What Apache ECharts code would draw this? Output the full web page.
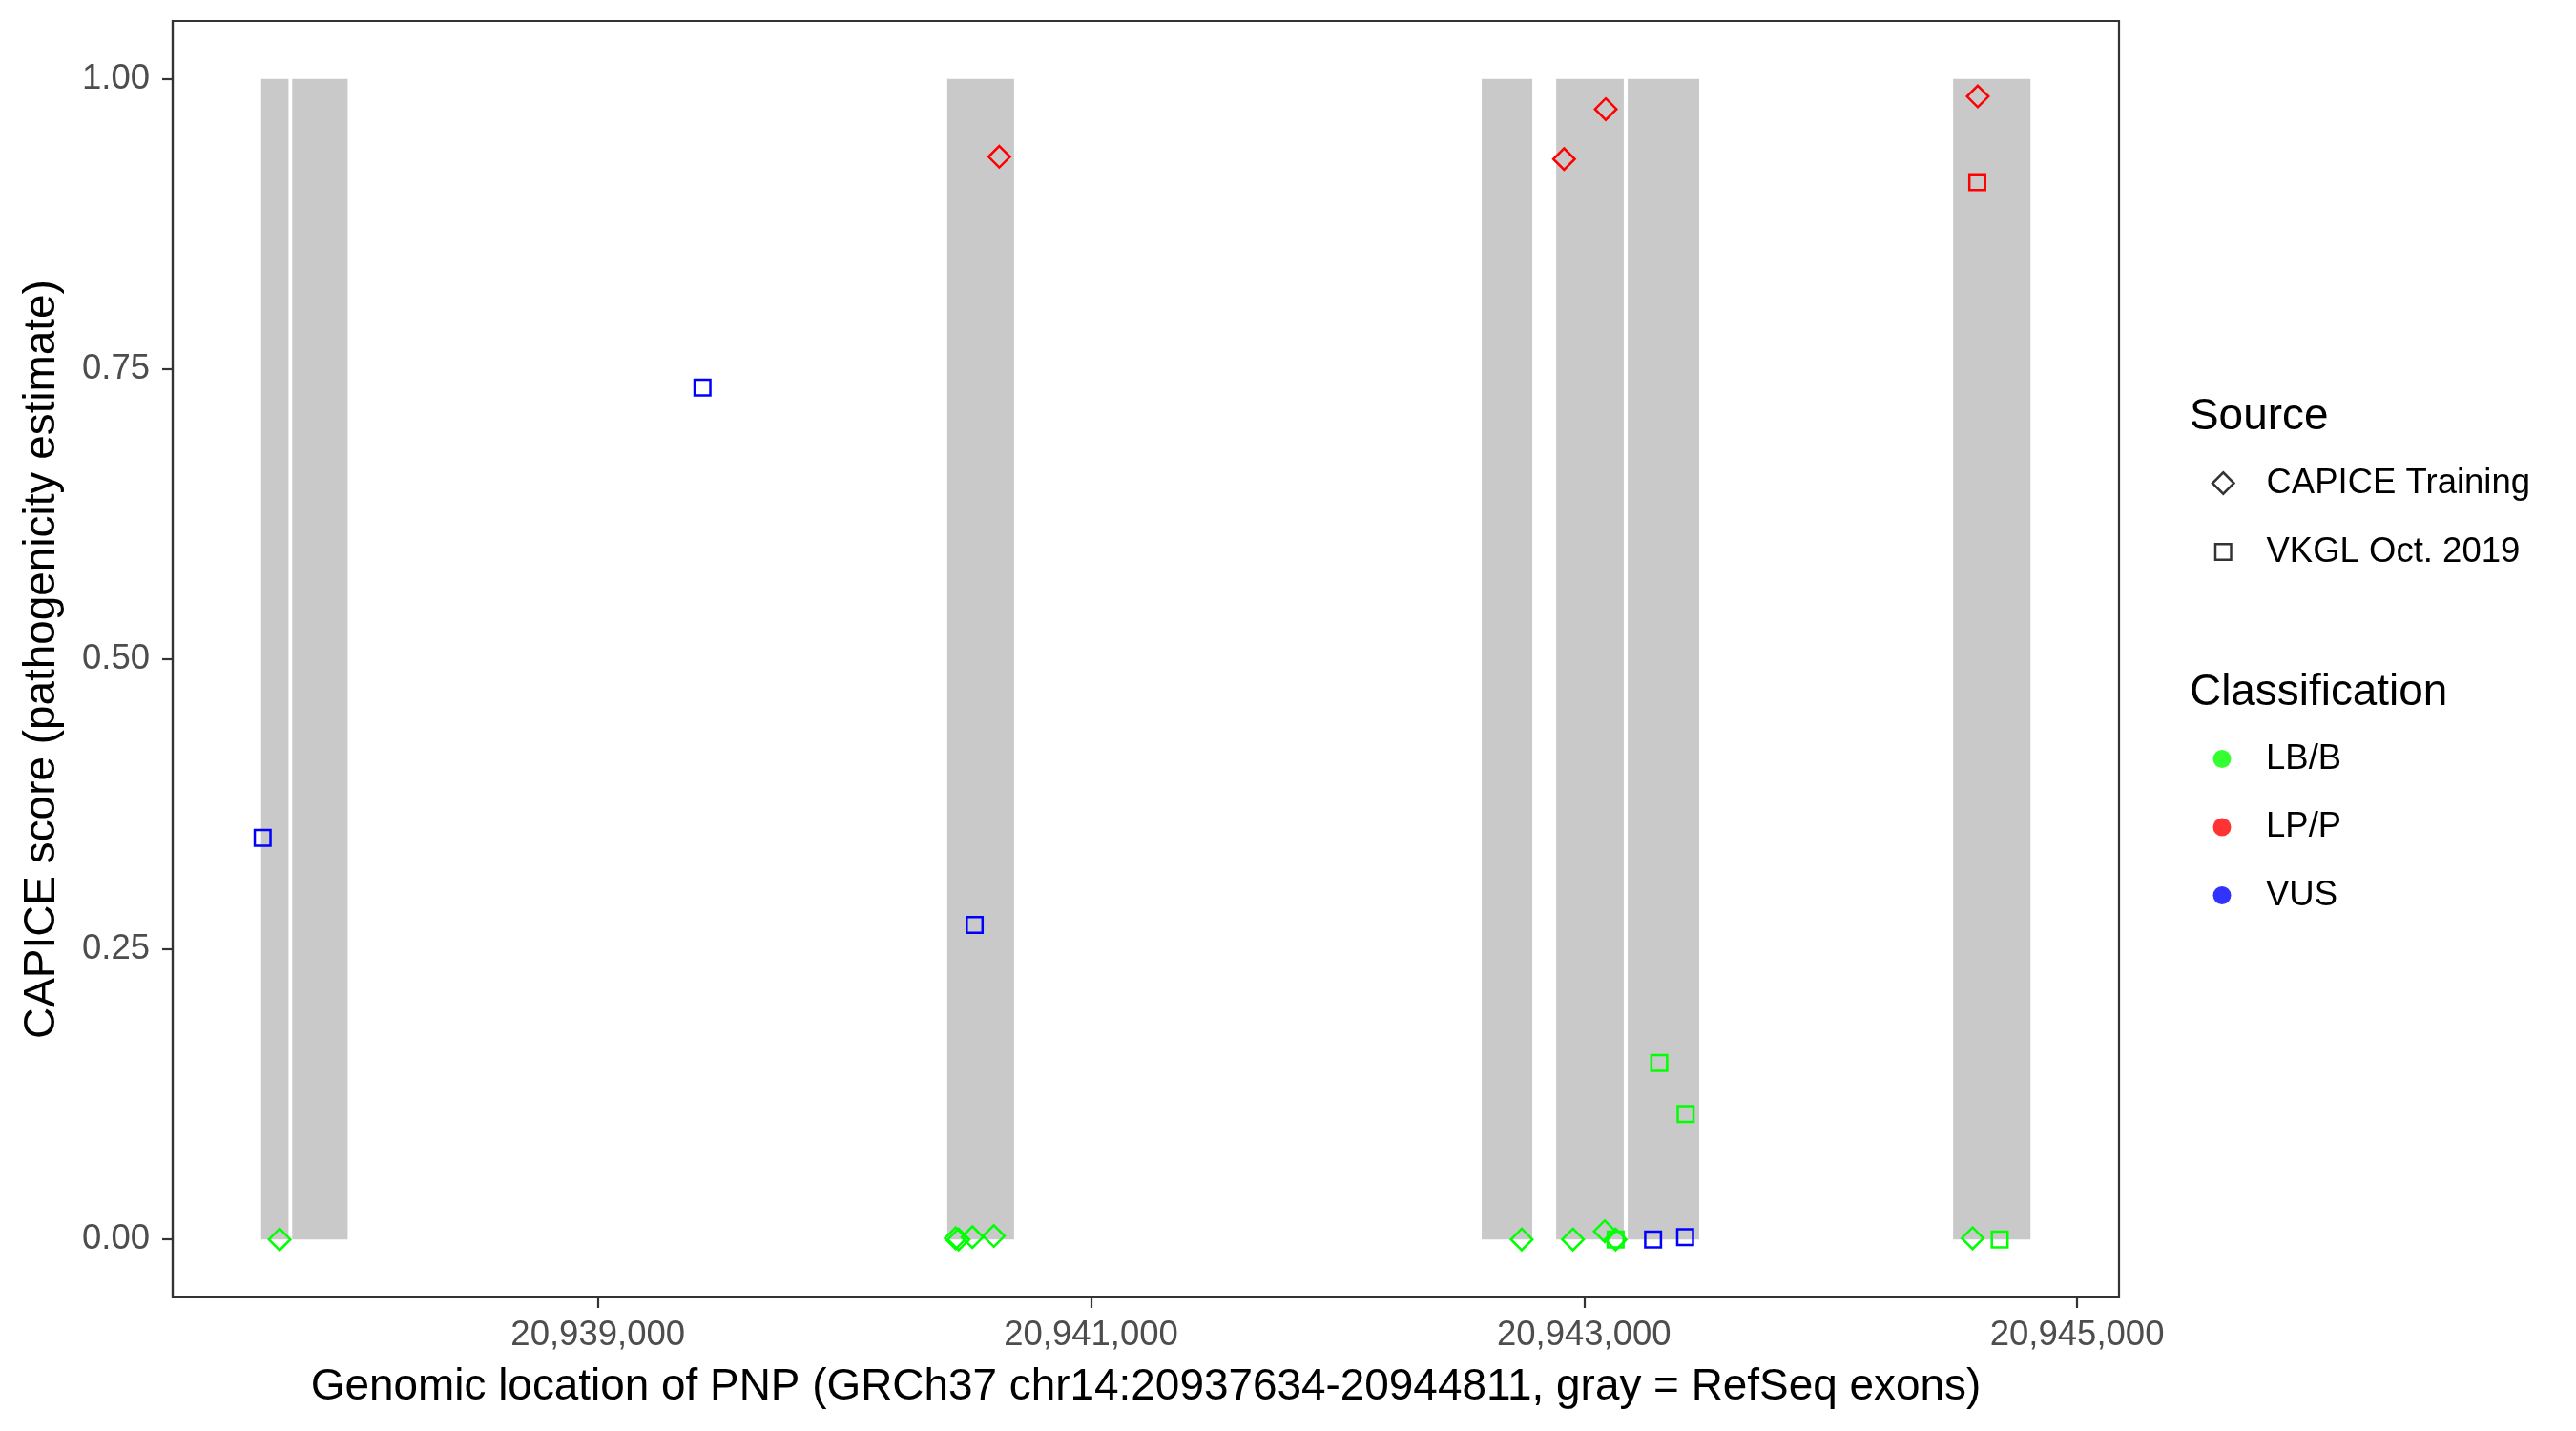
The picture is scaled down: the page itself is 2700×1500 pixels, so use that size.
<!DOCTYPE html>
<html>
<head>
<meta charset="utf-8">
<script src="https://cdn.jsdelivr.net/npm/echarts@6/dist/echarts.min.js"></script>
<style>
html,body{margin:0;padding:0;background:#fff;}
#chart{width:2700px;height:1500px;}
</style>
</head>
<body>
<div id="chart"></div>
<script>
// ---- data ----
const sourceNames = ['CAPICE Training', 'VKGL Oct. 2019'];
const classNames = ['LB/B', 'LP/P', 'VUS'];
const classColors = ['#00FF00', '#FF0000', '#0000FF'];

// RefSeq exons (gray)
const exonStarts = [20937634, 20937760, 20940417, 20942585, 20942887, 20943177, 20944497];
const exonEnds   = [20937745, 20937985, 20940688, 20942790, 20943161, 20943467, 20944811];

// CAPICE Training variants
const capicePos   = [20937709, 20940451, 20940463, 20940519, 20940606, 20940628, 20942747, 20942919, 20942955, 20943084, 20943088, 20943128, 20944576, 20944597];
const capiceScore = [0.000, 0.001, 0.000, 0.002, 0.003, 0.933, 0.000, 0.931, 0.000, 0.007, 0.974, 0.000, 0.001, 0.985];
const capiceClass = ['LB/B','LB/B','LB/B','LB/B','LB/B','LP/P','LB/B','LP/P','LB/B','LB/B','LP/P','LB/B','LB/B','LP/P'];

// VKGL Oct. 2019 variants
const vkglPos   = [20937640, 20939424, 20940528, 20943128, 20943280, 20943305, 20943410, 20943412, 20944595, 20944686];
const vkglScore = [0.346, 0.734, 0.271, 0.000, 0.000, 0.152, 0.002, 0.108, 0.911, 0.000];
const vkglClass = ['VUS','VUS','VUS','LB/B','VUS','LB/B','VUS','LB/B','LP/P','LB/B'];

const xTicks = [20939000, 20941000, 20943000, 20945000];
const yTicks = [0, 0.25, 0.5, 0.75, 1];
const xMin = 20937275.15, xMax = 20945169.85;
const yMin = -0.05, yMax = 1.05;

const xTitle = 'Genomic location of PNP (GRCh37 chr14:20937634-20944811, gray = RefSeq exons)';
const yTitle = 'CAPICE score (pathogenicity estimate)';

// ---- build ----
const FONT = '"Liberation Sans", Arial, Helvetica, sans-serif';
const TITLE_SIZE = 45.9, TEXT_SIZE = 36.5;
const DIAMOND = 22.5, SQUARE = 16.5, LW = 2.5;

function pick(pos, score, cls, c) {
  const out = [];
  for (let i = 0; i < pos.length; i++) if (cls[i] === c) out.push([pos[i], score[i]]);
  return out;
}

const series = [];
series.push({
  type: 'custom',
  name: 'exons',
  silent: true,
  z: 1,
  data: exonStarts.map((s, i) => [s, exonEnds[i], 0, 1]),
  encode: { x: [0, 1], y: [2, 3] },
  renderItem: function (params, api) {
    const p0 = api.coord([api.value(0), api.value(3)]);
    const p1 = api.coord([api.value(1), api.value(2)]);
    return { type: 'rect', shape: { x: p0[0], y: p0[1], width: p1[0] - p0[0], height: p1[1] - p0[1] }, style: { fill: '#C9C9C9' } };
  }
});

classNames.forEach((c, ci) => {
  series.push({
    type: 'scatter', name: sourceNames[0] + ' - ' + c, z: 3,
    symbol: 'diamond', symbolSize: DIAMOND,
    itemStyle: { color: 'rgba(0,0,0,0)', borderColor: classColors[ci], borderWidth: LW, opacity: 1 },
    data: pick(capicePos, capiceScore, capiceClass, c)
  });
  series.push({
    type: 'scatter', name: sourceNames[1] + ' - ' + c, z: 3,
    symbol: 'rect', symbolSize: SQUARE,
    itemStyle: { color: 'rgba(0,0,0,0)', borderColor: classColors[ci], borderWidth: LW, opacity: 1 },
    data: pick(vkglPos, vkglScore, vkglClass, c)
  });
});

// legend-only (empty) series
series.push({ type: 'scatter', name: sourceNames[0], symbol: 'diamond', data: [], itemStyle: { color: 'rgba(0,0,0,0)', borderColor: '#000', borderWidth: LW } });
series.push({ type: 'scatter', name: sourceNames[1], symbol: 'rect', data: [], itemStyle: { color: 'rgba(0,0,0,0)', borderColor: '#000', borderWidth: LW } });
classNames.forEach((c, ci) => {
  series.push({ type: 'scatter', name: c, symbol: 'circle', data: [], itemStyle: { color: classColors[ci] } });
});

const legendText = { fontFamily: FONT, fontSize: TEXT_SIZE, color: '#000', lineHeight: 40 };
function legendBox(names, icon, size, centerY, gap, itemStyleFn, padLeft) {
  return {
    orient: 'vertical', left: 2329 - size / 2, top: centerY - 20 + 3.5,
    padding: 0,
    itemWidth: size, itemHeight: size, itemGap: gap,
    selectedMode: false,
    textStyle: Object.assign({}, legendText, { padding: [0, 0, 0, padLeft] }),
    data: names.map((n, i) => ({ name: n, icon: icon, itemStyle: itemStyleFn(i) }))
  };
}

const axisColor = '#333333';
const option = {
  animation: false,
  backgroundColor: '#ffffff',
  textStyle: { fontFamily: FONT },
  grid: { left: 181, right: 479, top: 22, bottom: 140, show: true, borderColor: axisColor, borderWidth: 2.2, backgroundColor: 'rgba(0,0,0,0)', containLabel: false },
  xAxis: {
    type: 'value', min: xMin, max: xMax, position: 'bottom',
    splitLine: { show: false },
    axisLine: { show: true, onZero: false, lineStyle: { color: axisColor, width: 2.2 } },
    axisTick: { show: true, inside: false, customValues: xTicks, length: 11, lineStyle: { color: axisColor, width: 2.2 } },
    axisLabel: { customValues: xTicks, margin: 21, fontFamily: FONT, fontSize: TEXT_SIZE, color: '#4D4D4D',
      formatter: v => String(Math.round(v)).replace(/\B(?=(\d{3})+(?!\d))/g, ',') }
  },
  yAxis: {
    type: 'value', min: yMin, max: yMax, position: 'left',
    splitLine: { show: false },
    axisLine: { show: true, onZero: false, lineStyle: { color: axisColor, width: 2.2 } },
    axisTick: { show: true, inside: false, customValues: yTicks, length: 11, lineStyle: { color: axisColor, width: 2.2 } },
    axisLabel: { customValues: yTicks, margin: 24, fontFamily: FONT, fontSize: TEXT_SIZE, color: '#4D4D4D',
      formatter: v => v.toFixed(2) }
  },
  legend: [
    legendBox([sourceNames[0]], 'diamond', DIAMOND, 503, 31.5, () => ({ color: 'rgba(0,0,0,0)', borderColor: '#000', borderWidth: LW }), 29),
    legendBox([sourceNames[1]], 'rect', SQUARE, 575, 31.5, () => ({ color: 'rgba(0,0,0,0)', borderColor: '#000', borderWidth: LW }), 32),
    legendBox(classNames, 'circle', 19, 792, 31.5, i => ({ color: classColors[i], borderWidth: 0 }), 31.5)
  ],
  graphic: [
    { type: 'text', x: 1201, y: 1454, silent: true, style: { text: xTitle, fontFamily: FONT, fontSize: TITLE_SIZE, fill: '#000', align: 'center', verticalAlign: 'middle' } },
    { type: 'text', x: 44, y: 691, rotation: Math.PI / 2, silent: true, style: { text: yTitle, fontFamily: FONT, fontSize: TITLE_SIZE, fill: '#000', align: 'center', verticalAlign: 'middle' } },
    { type: 'text', x: 2295, y: 437, silent: true, style: { text: 'Source', fontFamily: FONT, fontSize: TITLE_SIZE, fill: '#000', align: 'left', verticalAlign: 'middle' } },
    { type: 'text', x: 2295, y: 726, silent: true, style: { text: 'Classification', fontFamily: FONT, fontSize: TITLE_SIZE, fill: '#000', align: 'left', verticalAlign: 'middle' } }
  ],
  series: series
};

const chart = echarts.init(document.getElementById('chart'), null, { renderer: 'canvas' });
chart.setOption(option);
</script>
</body>
</html>
